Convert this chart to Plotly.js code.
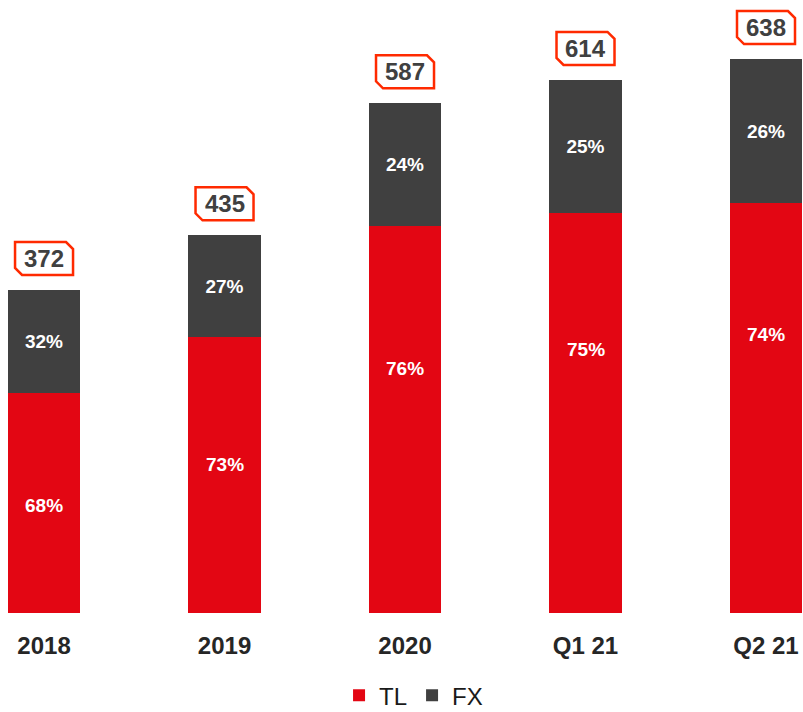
<!DOCTYPE html>
<html>
<head>
<meta charset="utf-8">
<script src="https://cdn.plot.ly/plotly-3.0.1.min.js"></script>
<style>html,body{margin:0;padding:0;background:#fff;}#chart{width:803px;height:712px;}</style>
</head>
<body>
<div id="chart"></div>
<script>
const categories = ["2018", "2019", "2020", "Q1 21", "Q2 21"];
const totals = [372, 435, 587, 614, 638];
const tlPct = [68, 73, 76, 75, 74];
const fxPct = [32, 27, 24, 25, 26];

// label placement within TL segment (fraction of segment height), style only
const tlLabelFrac = [0.49, 0.54, 0.63, 0.66, 0.68];

const xIdx = categories.map((c, i) => i);
const tlVals = totals.map((t, i) => t * tlPct[i] / 100);
const fxVals = totals.map((t, i) => t * fxPct[i] / 100);

const FONT = "Liberation Sans, Arial, sans-serif";
const barFont = {family: FONT, size: 19, color: "#ffffff"};

const traces = [
  {
    type: "bar", name: "TL", x: xIdx, y: tlVals, width: 0.4,
    marker: {color: "#E30613"}, hoverinfo: "skip"
  },
  {
    type: "bar", name: "FX", x: xIdx, y: fxVals, width: 0.4,
    marker: {color: "#404040"},
    text: fxPct.map(p => "<b>" + p + "%</b>"), textposition: "inside", insidetextanchor: "middle",
    textfont: barFont, hoverinfo: "skip"
  }
];

// chamfered callout box geometry in pixels relative to the bar top
const BX = 29, BB = 15, BT = 48, C = 7;
const boxPath = `M ${-BX},${BB + C} L ${-BX},${BT} L ${BX - C},${BT} L ${BX},${BT - C} L ${BX},${BB} L ${-BX + C},${BB} Z`;

const shapes = totals.map((t, i) => ({
  type: "path", xref: "x", yref: "y",
  xsizemode: "pixel", ysizemode: "pixel",
  xanchor: xIdx[i], yanchor: t,
  path: boxPath,
  line: {color: "#FF2A00", width: 2.5},
  fillcolor: "#ffffff", layer: "above"
}));

const annotations = [];
totals.forEach((t, i) => {
  annotations.push({
    x: xIdx[i], y: t, xref: "x", yref: "y",
    text: "<b>" + t + "</b>", showarrow: false,
    yanchor: "middle", yshift: (BB + BT) / 2,
    font: {family: FONT, size: 24, color: "#404040"}
  });
  annotations.push({
    x: xIdx[i], y: tlVals[i] * tlLabelFrac[i], xref: "x", yref: "y",
    text: "<b>" + tlPct[i] + "%</b>", showarrow: false,
    yanchor: "middle", font: barFont
  });
});

const layout = {
  width: 803, height: 712,
  margin: {l: 0, r: 0, t: 0, b: 99, autoexpand: false},
  barmode: "stack",
  paper_bgcolor: "#ffffff", plot_bgcolor: "#ffffff",
  showlegend: true,
  legend: {orientation: "h", x: 0.515, xanchor: "center", y: -0.135, yanchor: "middle",
    font: {family: FONT, size: 24, color: "#1a1a1a"},
    itemwidth: 30, traceorder: "normal"},
  xaxis: {
    range: [-0.244, 4.205], tickmode: "array", tickvals: xIdx, ticktext: categories.map(c => "<b>" + c + "</b>"),
    tickfont: {family: FONT, size: 24, color: "#262626"},
    ticklabelstandoff: 16, automargin: false,
    showgrid: false, zeroline: false, showline: false, ticks: "", ticklen: 0
  },
  yaxis: {range: [0, 706], visible: false, showgrid: false, zeroline: false, automargin: false},
  shapes: shapes,
  annotations: annotations,
  bargap: 0
};

Plotly.newPlot("chart", traces, layout, {staticPlot: true, displayModeBar: false});
</script>
</body>
</html>
